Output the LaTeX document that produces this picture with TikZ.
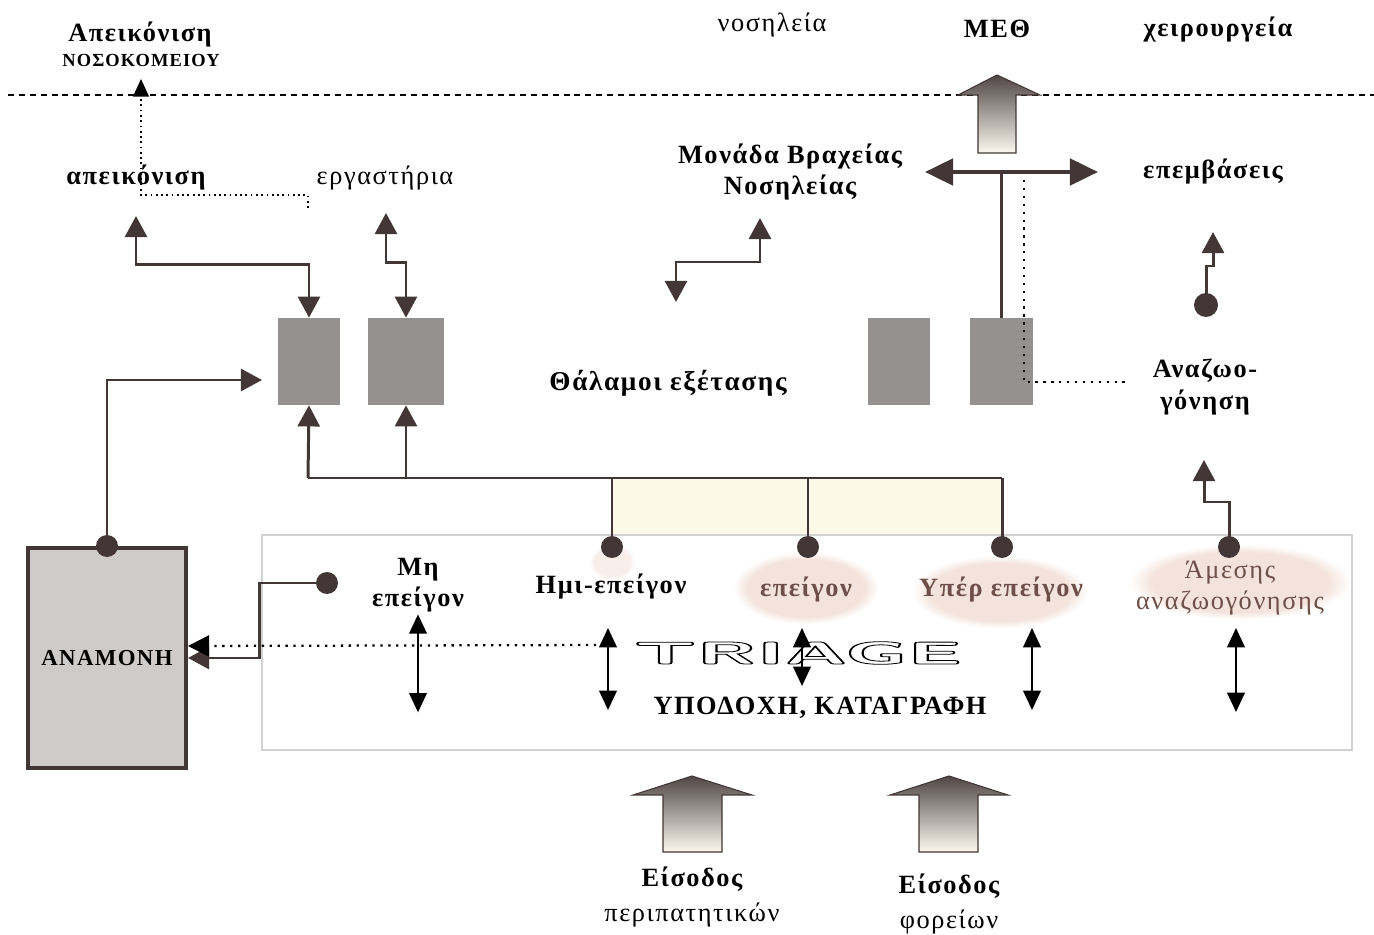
\documentclass[tikz,border=0pt]{standalone}
\usepackage{fontspec}
\setmainfont{Liberation Serif}[LetterSpace=6.0]
\usepackage{graphicx}
\usetikzlibrary{arrows.meta, calc, fadings}
\definecolor{linebrown}{RGB}{66, 54, 54}
\definecolor{roomgray}{RGB}{150, 145, 145}
\definecolor{waitgray}{RGB}{208, 203, 203}
\definecolor{creamfill}{RGB}{253, 248, 232}
\definecolor{blotchpink}{RGB}{244, 227, 220}
\definecolor{textbrown}{RGB}{110, 80, 74}
\definecolor{framegray}{RGB}{210, 210, 210}
\definecolor{arrowdark}{RGB}{80, 70, 70}
\definecolor{arrowlight}{RGB}{252, 248, 238}
\newcommand{\lblsize}{\fontsize{15}{18}\selectfont}
\newcommand{\outlinetext}[1]{\special{pdf:literal direct 1 Tr 0.45 w}#1\special{pdf:literal direct 0 Tr}}
\tikzset{
  lbl/.style={font=\lblsize\bfseries, align=center, inner sep=1pt},
  plain/.style={font=\lblsize, align=center, inner sep=1pt},
  room/.style={fill=roomgray, minimum height=1.74cm, inner sep=0pt},
  wait/.style={draw=linebrown, fill=waitgray, line width=2.3pt,
               minimum width=3.16cm, minimum height=4.4cm,
               font=\fontsize{13}{16}\selectfont\bfseries},
  dot/.style={circle, fill=linebrown, minimum size=0.44cm, inner sep=0pt},
  line/.style={linebrown, line width=1.7pt},
  flow/.style={line, -{Triangle[length=12pt, width=12.5pt]}},
  dflow/.style={line, {Triangle[length=12pt, width=12.5pt]}-{Triangle[length=12pt, width=12.5pt]}},
  vflow/.style={black, line width=1.2pt, {Triangle[length=11pt, width=10pt]}-{Triangle[length=11pt, width=10pt]}},
  hflow/.style={linebrown, line width=2.3pt, {Triangle[length=16pt, width=15pt]}-{Triangle[length=16pt, width=15pt]}},
  dotline/.style={black, line width=1.3pt, dash pattern=on 1.3pt off 3.2pt},
  sep/.style={black, line width=0.6pt, dash pattern=on 3.4pt off 2.8pt},
  blockup/.style={draw=linebrown, line width=0.6pt, top color=arrowdark, bottom color=arrowlight},
  blotch/.style={fill=blotchpink, path fading=circle with fuzzy edge 20 percent},
}

\begin{document}
\begin{tikzpicture}[x=0.02cm, y=-0.02cm]
  \useasboundingbox (0,0) rectangle (1374,935);
  % Outside the department
  \node[lbl] (apkH) at (140,35) {Απεικόνιση};
  \node[lbl, font=\fontsize{10.5}{13}\selectfont\bfseries] (noso) at (141,60) {ΝΟΣΟΚΟΜΕΙΟΥ};
  \node[plain] (nosil) at (772,25) {νοσηλεία};
  \node[lbl] (meth) at (997,29) {ΜΕΘ};
  \node[lbl] (xeir) at (1218,30) {χειρουργεία};
  \coordinate (wallL) at (8,95);
  \coordinate (wallR) at (1374,95);
  \draw[sep] (wallL) -- (wallR);
  % Triage frame and band
  \fill[creamfill] (612,479) rectangle (1002,535);
  \draw[framegray, line width=0.8pt] (262,535) rectangle (1352,750);
  \fill[blotch] (806,588) ellipse [x radius=1.45cm, y radius=0.72cm];
  \fill[blotch] (1000,592) ellipse [x radius=1.75cm, y radius=0.72cm];
  \fill[blotch] (1240,582) ellipse [x radius=2.2cm, y radius=0.75cm];
  \fill[blotch, fill=blotchpink!60] (612,562) ellipse [x radius=0.45cm, y radius=0.35cm];
  % Imaging and labs
  \node[lbl] (apk) at (136,178) {απεικόνιση};
  \node[plain] (erg) at (385,178) {εργαστήρια};
  \node[room, minimum width=1.24cm] (r1) at (309,361.5) {};
  \node[room, minimum width=1.52cm] (r2) at (406,361.5) {};
  \node[room, minimum width=1.24cm] (r3) at (899,361.5) {};
  \node[room, minimum width=1.26cm] (r4) at (1001.5,361.5) {};
  \coordinate (labEnd) at (308,208);
  \coordinate (nosoIn) at (141,79);
  \draw[dotline, line width=0.8pt, dash pattern=on 1pt off 2pt, -{Triangle[length=10pt, width=9pt]}]
    (labEnd) |- (141,195) -- (nosoIn);
  \coordinate (apkIn) at (136,216);
  \coordinate (ergIn) at (386,213);
  \draw[dflow] (apkIn) |- ($(r1.north)+(0,-53)$) -- (r1.north);
  \draw[dflow] (ergIn) |- ($(r2.north)+(0,-55)$) -- (r2.north);
  % Waiting room
  \node[wait] (wait) at (107,658) {ΑΝΑΜΟΝΗ};
  \node[dot] (wdot) at (wait.north) {};
  \coordinate (r1In) at (262,380);
  \draw[flow] (wdot.center) |- (r1In);
  % Bus from triage to the rooms
  \coordinate (busL) at (308,478);
  \coordinate (busR) at (1002,478);
  \draw[line] (busL) -- (busR);
  \draw[flow] (busL) -- (r1.south);
  \draw[flow] (r2.south |- busL) -- (r2.south);
  \node[dot] (dSemi) at (612,547) {};
  \node[dot] (dUrg) at (808,547) {};
  \node[dot] (dSup) at (1002,547) {};
  \draw[line] (dSemi.center) -- (dSemi |- busL);
  \draw[line] (dUrg.center) -- (dUrg |- busL);
  \draw[line] (dSup.center) -- (busR);
  % Triage categories
  \node[lbl] (non) at (418,585) {Μη\\επείγον};
  \node[dot] (dNon) at (327,583) {};
  \node[lbl] (semi) at (611,587) {Ημι-επείγον};
  \node[lbl, text=textbrown] (urg) at (806,590) {επείγον};
  \node[lbl, text=textbrown] (sup) at (1001,590) {Υπέρ επείγον};
  \node[plain, text=textbrown] (imm) at (1230,588) {Άμεσης\\αναζωογόνησης};
  \node[dot] (dImm) at (1229,547) {};
  \draw[flow] (dNon.center) -| ($(wait.east)+(71,0)$) -- (wait.east);
  \coordinate (semiBack) at (604,645);
  \draw[dotline, -{Triangle[length=12pt, width=12pt]}] (semiBack) -- ($(wait.east)+(0,-12)$);
  \node (triage) at (798,653)
    {\scalebox{2.7}[1]{\fontsize{18}{18}\selectfont\sffamily\bfseries\outlinetext{TRIAGE}}};
  \node[lbl] (recv) at (820,708) {ΥΠΟΔΟΧΗ, ΚΑΤΑΓΡΑΦΗ};
  \draw[vflow] (non.south) -- ++(0,98);
  \draw[vflow] (608,628) -- (608,710);
  \draw[vflow] (802,628) -- (802,686);
  \draw[vflow] (1032,628) -- (1032,710);
  \draw[vflow] (1236,628) -- (1236,712);
  % Entrances
  \shadedraw[blockup] (633,795) -- (692,776) -- (752,795) -- (722,795) -- (722,852)
    -- (663,852) -- (663,795) -- cycle;
  \shadedraw[blockup] (890,795) -- (949,776) -- (1008,795) -- (978,795) -- (978,852)
    -- (919,852) -- (919,795) -- cycle;
  \node[lbl, font=\fontsize{15}{20}\selectfont\bfseries] (inWalk) at (692,897) {Είσοδος\\\mdseries περιπατητικών};
  \node[lbl, font=\fontsize{15}{20}\selectfont\bfseries] (inStr) at (949,904) {Είσοδος\\\mdseries φορείων};
  % Short stay unit
  \node[lbl] (short) at (790,172) {Μονάδα Βραχείας\\Νοσηλείας};
  \coordinate (shortIn) at (760,218);
  \coordinate (shortOut) at (676,302);
  \draw[dflow] (shortOut) |- ($(shortIn)+(0,44)$) -- (shortIn);
  \node[lbl, font=\fontsize{15.5}{18}\selectfont\bfseries] (exam) at (668,383) {Θάλαμοι εξέτασης};
  % ICU, theatres, resuscitation
  \shadedraw[blockup] (958,95) -- (997,75) -- (1040,95) -- (1016,95) -- (1016,153)
    -- (978,153) -- (978,95) -- cycle;
  \coordinate (icuL) at (925,172);
  \coordinate (icuR) at (1098,172);
  \draw[hflow] (icuL) -- (icuR);
  \draw[line] (r4.north |- icuL) -- (r4.north);
  \node[lbl] (interv) at (1213,172) {επεμβάσεις};
  \node[lbl] (resus) at (1205,387) {Αναζωο-\\γόνηση};
  \coordinate (resTop) at (1024,180);
  \coordinate (resEnd) at (1128,382);
  \draw[dotline] (resTop) |- (resEnd);
  \node[dot, minimum size=0.48cm] (rdot) at (1206,305) {};
  \coordinate (intIn) at (1213,232);
  \draw[flow] (rdot.center) |- ($(intIn)+(0,34)$) -- (intIn);
  \coordinate (resIn) at (1204,460);
  \draw[flow] (dImm.center) |- ($(resIn)+(0,42)$) -- (resIn);
\end{tikzpicture}
\end{document}
